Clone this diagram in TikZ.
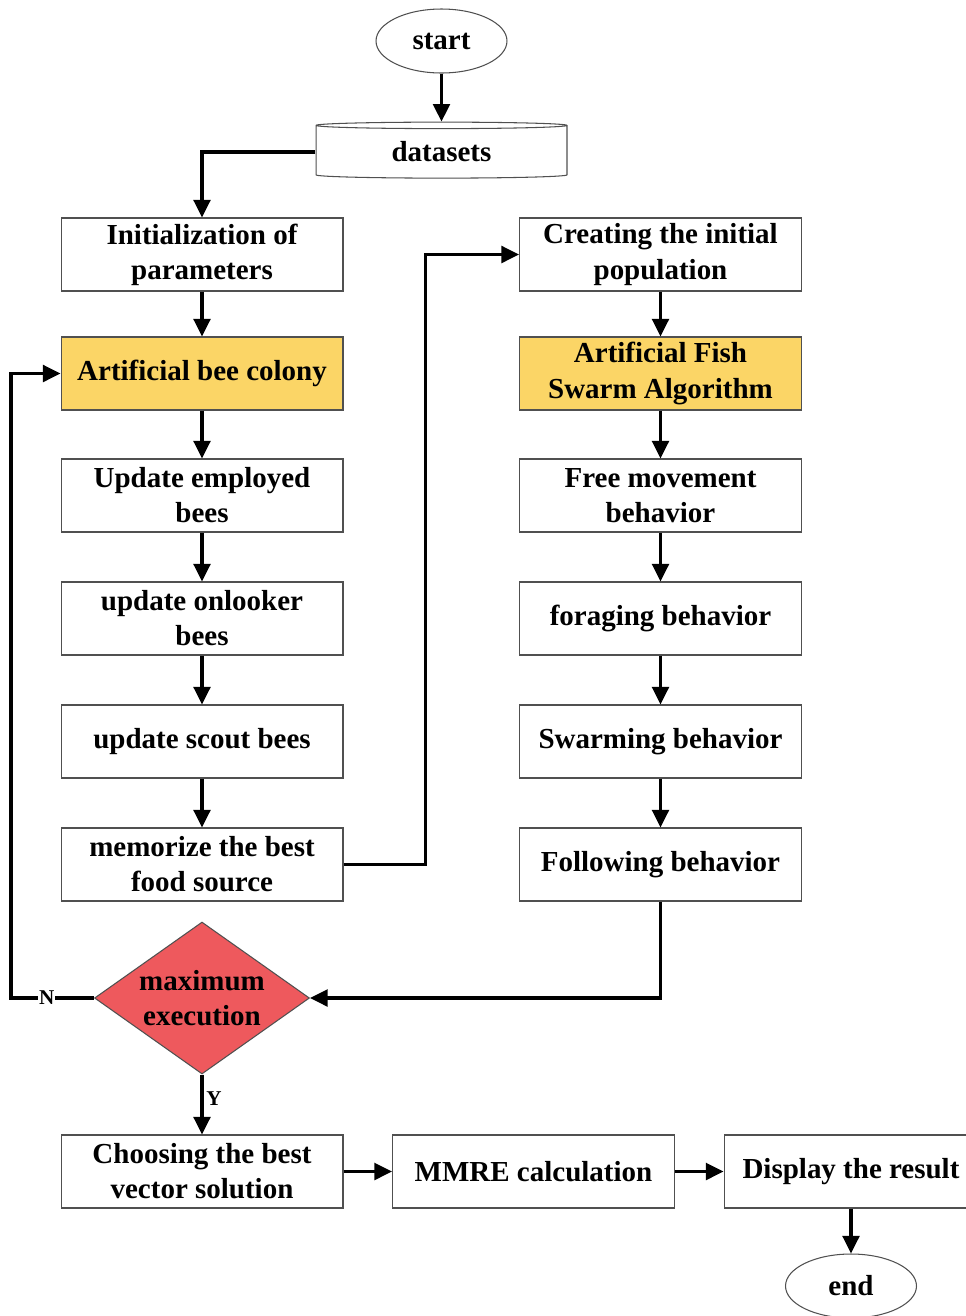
\documentclass[tikz,border=0pt]{standalone}
\usepackage{fontspec}
\setmainfont{Liberation Serif}
\usetikzlibrary{shapes.geometric,arrows.meta,positioning,calc}
\definecolor{fcYellow}{RGB}{251,213,102}
\definecolor{fcRed}{RGB}{238,89,93}
\definecolor{fcGray}{RGB}{80,80,80}
\newcommand{\fcfont}{\fontsize{16.5pt}{20pt}\selectfont\bfseries}
\tikzset{
 fc box/.style={rectangle,draw=fcGray,line width=.6pt,minimum width=5.64cm,
                minimum height=1.46cm,align=center,inner sep=2pt,font=\fcfont},
 fc key box/.style={fc box,fill=fcYellow},
 fc decide/.style={diamond,draw=fcGray,fill=fcRed,line width=.6pt,aspect=1.41,
                   minimum width=4.3cm,minimum height=3.04cm,inner sep=0pt,
                   align=center,font=\fcfont},
 fc terminal/.style={ellipse,draw=fcGray,line width=.6pt,minimum width=2.62cm,
                     minimum height=1.28cm,inner sep=0pt,font=\fcfont},
 fc store/.style={cylinder,shape border rotate=90,aspect=0.065,draw=fcGray,
                  line width=.6pt,minimum width=5.02cm,minimum height=1.12cm,
                  inner sep=0pt,font=\fcfont},
 fc flow/.style={line width=1.8pt,-{Triangle[length=10pt,width=9.5pt]}},
 fc yn/.style={font=\fontsize{12pt}{13pt}\selectfont\bfseries,inner sep=.6pt}
}
\begin{document}
\begin{tikzpicture}[x=0.02cm,y=-0.02cm]
 \useasboundingbox (0,0) rectangle (966,1316);
 % terminals and data
 \node[fc terminal] (start) at (441.5,41) {start};
 \node[fc store] (data) at (441.5,152) {datasets};
 % artificial bee colony column
 \node[fc box] (init) at (202,254.5) {Initialization of\\parameters};
 \node[fc key box] (abc) at (202,373.5) {Artificial bee colony};
 \node[fc box] (empl) at (202,495.5) {Update employed\\bees};
 \node[fc box] (onlk) at (202,618.5) {update onlooker\\bees};
 \node[fc box] (scout) at (202,741.5) {update scout bees};
 \node[fc box] (memo) at (202,864.5) {memorize the best\\food source};
 % fish swarm column
 \node[fc box] (create) at (660.5,254.5) {Creating the initial\\population};
 \node[fc key box] (afsa) at (660.5,373.5) {Artificial Fish\\Swarm Algorithm};
 \node[fc box] (free) at (660.5,495.5) {Free movement\\behavior};
 \node[fc box] (forage) at (660.5,618.5) {foraging behavior};
 \node[fc box] (swarm) at (660.5,741.5) {Swarming behavior};
 \node[fc box] (follow) at (660.5,864.5) {Following behavior};
 % decision and result
 \node[fc decide] (maxex) at (202,998) {maximum\\execution};
 \node[fc box] (choose) at (202,1171.5) {Choosing the best\\vector solution};
 \node[fc box] (mmre) at (533.5,1171.5) {MMRE calculation};
 \node[fc box,minimum width=5.08cm] (disp) at (851,1171.5) {Display the result};
 \node[fc terminal] (stop) at (851,1286) {end};

 \draw[fc flow] (start) -- (data);
 \draw[fc flow] (data.west) -| (init.north);
 \foreach \a/\b in {init/abc,abc/empl,empl/onlk,onlk/scout,scout/memo,
                    create/afsa,afsa/free,free/forage,forage/swarm,swarm/follow}
   \draw[fc flow] (\a) -- (\b);
 \draw[fc flow] (memo.east) -- ++(82,0) |- (create.west);
 \draw[fc flow] (follow.south) |- (maxex.east);
 \draw[fc flow] (maxex.west) -- node[pos=.57,fc yn,fill=white] {N} ++(-83,0)
   |- (abc.west);
 \draw[fc flow] (maxex.south) -- node[pos=.4,right=1pt,fc yn] {Y} (choose.north);
 \draw[fc flow] (choose) -- (mmre);
 \draw[fc flow] (mmre) -- (disp);
 \draw[fc flow] (disp) -- (stop);
\end{tikzpicture}
\end{document}
